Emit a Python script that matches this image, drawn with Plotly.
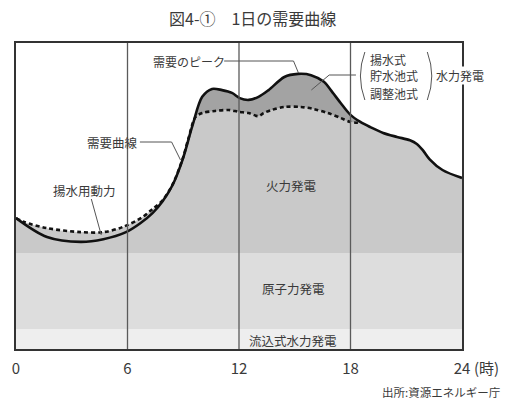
import plotly.graph_objects as go

# ---- data (hours, relative demand) ----
demand_h = [0, 1.67, 3.48, 4.70, 5.92, 6.67, 7.36, 7.89, 8.42, 8.96, 9.49, 10.02, 10.55,
            11.09, 11.62, 12.04, 12.52, 13.05, 13.59, 14.44, 15.18, 15.88, 16.57, 16.94,
            17.47, 18.0, 18.53, 19.07, 19.76, 20.5, 21.20, 21.57, 21.89, 22.26, 22.95, 24]
demand_v = [42.8, 36.6, 35.0, 35.9, 38.2, 41.0, 44.5, 48.3, 53.5, 61.8, 72.9, 82.4, 85.0,
            84.6, 83.7, 82.0, 81.4, 82.4, 84.6, 88.9, 89.9, 89.5, 87.3, 84.6,
            80.4, 76.5, 74.2, 72.5, 70.6, 69.3, 68.2, 67.0, 65.0, 62.0, 58.5, 55.9]

base_h = [0, 0.44, 1.67, 3.48, 4.70, 5.76, 6.83, 7.36, 7.89, 8.42, 8.96, 9.28, 9.66, 10.02,
          10.71, 11.46, 11.99, 12.52, 13.05, 13.32, 13.75, 14.44, 15.34, 16.04, 16.78,
          17.47, 18.0, 18.53]
base_v = [42.8, 41.5, 39.5, 38.2, 38.2, 39.9, 43.2, 45.8, 48.6, 53.7, 62.0, 68.8, 75.8, 77.1,
          77.8, 78.1, 77.5, 77.1, 76.1, 77.1, 78.1, 79.1, 79.1, 78.4, 77.1,
          75.5, 74.2, 73.9]

nuclear_top = 31.4
runriver_top = 6.5
band_h = [0, 24]

tick_vals = [0, 6, 12, 18, 24]
tick_text = ["0", "6", "12", "18", "24"]

# ---- helpers: pixel -> data for annotation placement ----
W, H = 515, 403
L, R, T, B = 12, 53, 43, 54
PW, PH = W - L - R, H - T - B
X0, XS = float(L), PW / 24.0
Y0, YS = float(H - B), PH / 100.0
def hx(px):
    return (px - X0) / XS
def vy(py):
    return (Y0 - py) / YS
def ppx(px):
    return (px - L) / PW
def ppy(py):
    return (H - B - py) / PH

FONT = "Noto Sans CJK JP"
TXT = "#3a3a3a"

fig = go.Figure()

fig.add_trace(go.Scatter(x=demand_h, y=demand_v, mode="lines",
                         line=dict(width=0, shape="spline", smoothing=0.9),
                         fill="tozeroy", fillcolor="#a3a3a3", hoverinfo="skip"))
tail = [i for i, h in enumerate(demand_h) if h > base_h[-1]]
fire_h = base_h + [demand_h[i] for i in tail]
fire_v = base_v + [demand_v[i] for i in tail]
fig.add_trace(go.Scatter(x=fire_h, y=fire_v, mode="lines",
                         line=dict(width=0, shape="spline", smoothing=0.9),
                         fill="tozeroy", fillcolor="#c9c9c9", hoverinfo="skip"))
fig.add_trace(go.Scatter(x=band_h, y=[nuclear_top] * 2, mode="lines", line=dict(width=0),
                         fill="tozeroy", fillcolor="#dddddd", hoverinfo="skip"))
fig.add_trace(go.Scatter(x=band_h, y=[runriver_top] * 2, mode="lines", line=dict(width=0),
                         fill="tozeroy", fillcolor="#eeeeee", hoverinfo="skip"))
fig.add_trace(go.Scatter(x=base_h, y=base_v, mode="lines",
                         line=dict(color="#111111", width=2.6, dash="4px,3px", shape="spline", smoothing=0.9),
                         hoverinfo="skip"))
fig.add_trace(go.Scatter(x=demand_h, y=demand_v, mode="lines",
                         line=dict(color="#111111", width=2.6, shape="spline", smoothing=0.9),
                         hoverinfo="skip"))

shapes = []
for h in [6, 12, 18]:
    shapes.append(dict(type="line", xref="x", yref="y", x0=h, x1=h, y0=0, y1=100,
                       line=dict(color="#5a5a5a", width=1.3), layer="above"))

def path(pts):
    return "M " + " L ".join(f"{hx(x):.4f},{vy(y):.4f}" for x, y in pts)

LEAD = dict(color="#555555", width=1)
shapes.append(dict(type="path", xref="x", yref="y", path=path([(222, 61), (292, 61), (297, 73)]),
                   line=LEAD, layer="above"))
shapes.append(dict(type="path", xref="x", yref="y", path=path([(137, 142), (169, 142), (178, 160)]),
                   line=LEAD, layer="above"))
shapes.append(dict(type="path", xref="x", yref="y", path=path([(88, 199), (98, 235)]),
                   line=LEAD, layer="above"))
shapes.append(dict(type="path", xref="x", yref="y", path=path([(310, 90), (328, 75), (355, 75)]),
                   line=LEAD, layer="above"))
shapes.append(dict(type="path", xref="x", yref="y",
                   path=f"M {hx(364):.4f},{vy(52):.4f} Q {hx(355):.4f},{vy(76):.4f} {hx(364):.4f},{vy(100):.4f}",
                   line=dict(color="#555555", width=1), layer="above"))
shapes.append(dict(type="path", xref="x", yref="y",
                   path=f"M {hx(427):.4f},{vy(52):.4f} Q {hx(436):.4f},{vy(76):.4f} {hx(427):.4f},{vy(100):.4f}",
                   line=dict(color="#555555", width=1), layer="above"))

ann = []
def add_text(text, px, py, size=12.5, xanchor="center", bg=None, pad=1):
    d = dict(text=text, x=ppx(px), y=ppy(py), xref="paper", yref="paper", showarrow=False,
             xanchor=xanchor, yanchor="middle", borderpad=pad,
             font=dict(family=FONT, size=size, color=TXT))
    if bg:
        d["bgcolor"] = bg
    ann.append(d)

add_text("需要のピーク", 187, 61, 12)
add_text("需要曲線", 109, 142)
add_text("揚水式", 368, 59, 12, xanchor="left", pad=0)
add_text("貯水池式", 368, 76, 12, xanchor="left", pad=0)
add_text("調整池式", 368, 93, 12, xanchor="left", pad=0)
add_text("揚水用動力", 81, 190)
add_text("水力発電", 460, 76, 12, bg="white", pad=0)
add_text("火力発電", 290, 185)
add_text("原子力発電", 292, 288)
add_text("流込式水力発電", 291, 340)
add_text("(時)", 472, 367, 15, xanchor="left")
add_text("出所:資源エネルギー庁", 502, 392, 11.5, xanchor="right")
add_text("図4-①　1日の需要曲線", 251, 18, 16)

fig.update_layout(
    width=W, height=H,
    margin=dict(l=L, r=R, t=T, b=B),
    paper_bgcolor="white", plot_bgcolor="white",
    showlegend=False,
    shapes=shapes, annotations=ann,
    xaxis=dict(range=[0, 24], tickvals=tick_vals, ticktext=tick_text, showgrid=False, zeroline=False,
               showline=True, mirror=True, linecolor="#333333", linewidth=1.5, ticks="",
               ticklabelstandoff=5,
               tickfont=dict(family=FONT, size=15, color=TXT), fixedrange=True),
    yaxis=dict(range=[0, 100], showticklabels=False, showgrid=False, zeroline=False,
               showline=True, mirror=True, linecolor="#333333", linewidth=1.5, ticks="", fixedrange=True),
)

fig.write_html("out.html", config={"displayModeBar": False})
